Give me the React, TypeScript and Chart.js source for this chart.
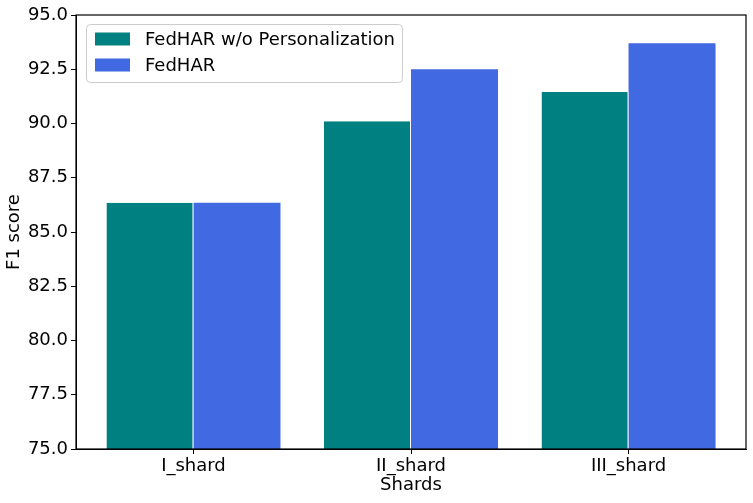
import React, { useEffect, useRef } from "react";
import { Chart, registerables } from "chart.js";

Chart.register(...registerables);

const categories = ["I_shard", "II_shard", "III_shard"];
const seriesNames = ["FedHAR w/o Personalization", "FedHAR"];
const withoutPersonalization = [86.35, 90.1, 91.45];
const fedhar = [86.35, 92.5, 93.7];
const seriesColors = ["#008080", "#4169E1"];
const yMin = 75;
const yMax = 95;
const yStep = 2.5;
const xTitle = "Shards";
const yTitle = "F1 score";

const FONT = "'DejaVu Sans', sans-serif";

const framePlugin = {
  id: "frame",
  afterDatasetsDraw(chart: any) {
    const { ctx, chartArea } = chart;
    ctx.save();
    ctx.strokeStyle = "#000";
    ctx.lineWidth = 1.2;
    ctx.strokeRect(chartArea.left, chartArea.top, chartArea.right - chartArea.left, chartArea.bottom - chartArea.top);
    ctx.restore();
  },
};

const legendPlugin = {
  id: "innerLegend",
  afterDraw(chart: any) {
    const { ctx, chartArea } = chart;
    ctx.save();
    ctx.font = `18px ${FONT}`;
    const x0 = chartArea.left + 10;
    const y0 = chartArea.top + 9;
    const patchW = 35;
    const patchH = 13;
    const textX = x0 + 59;
    const rowH = 26;
    let maxW = 0;
    seriesNames.forEach((n) => {
      maxW = Math.max(maxW, ctx.measureText(n).width);
    });
    const boxW = textX - x0 + maxW + 7;
    const boxH = 58;
    ctx.beginPath();
    ctx.roundRect(x0 + 0.5, y0 + 0.5, boxW, boxH, 4);
    ctx.fillStyle = "rgba(255,255,255,0.8)";
    ctx.fill();
    ctx.strokeStyle = "#cccccc";
    ctx.lineWidth = 1;
    ctx.stroke();
    seriesNames.forEach((n, i) => {
      const cy = y0 + 15 + i * rowH;
      ctx.fillStyle = seriesColors[i];
      ctx.fillRect(x0 + 9, cy - patchH / 2, patchW, patchH);
      ctx.fillStyle = "#000";
      ctx.textBaseline = "middle";
      ctx.textAlign = "left";
      ctx.fillText(n, textX, cy + 1);
    });
    ctx.restore();
  },
};

export default function App() {
  const ref = useRef<HTMLCanvasElement>(null);
  useEffect(() => {
    if (!ref.current) return;
    const chart = new Chart(ref.current, {
      type: "bar",
      data: {
        datasets: [
          {
            label: seriesNames[0],
            data: withoutPersonalization.map((v, i) => ({ x: i, y: v })),
            backgroundColor: seriesColors[0],
            borderColor: "#ffffff",
            borderWidth: { left: 0, right: 1, top: 0, bottom: 0 },
            borderSkipped: false,
          },
          {
            label: seriesNames[1],
            data: fedhar.map((v, i) => ({ x: i, y: v })),
            backgroundColor: seriesColors[1],
            borderWidth: 0,
          },
        ],
      },
      options: {
        animation: false,
        responsive: false,
        maintainAspectRatio: false,
        layout: { padding: { top: 15, right: 7, left: 0, bottom: 0 } },
        plugins: { legend: { display: false }, tooltip: { enabled: false } },
        datasets: { bar: { categoryPercentage: 0.8, barPercentage: 1.0 } },
        scales: {
          x: {
            type: "linear",
            min: -0.54,
            max: 2.54,
            offset: false,
            afterBuildTicks: (s: any) => {
              s.ticks = categories.map((_, i) => ({ value: i }));
            },
            afterFit: (s: any) => {
              s.height = 54;
            },
            grid: { offset: false, drawOnChartArea: false, drawTicks: true, tickLength: 5, color: "#000" },
            border: { display: true, color: "#000", width: 1 },
            ticks: {
              font: { family: FONT, size: 18 },
              color: "#000",
              padding: 2,
              maxRotation: 0,
              callback: (v: any) => categories[Math.round(Number(v))] ?? "",
            },
            title: {
              display: true,
              text: xTitle,
              font: { family: FONT, size: 18 },
              color: "#000",
              padding: { top: 0, bottom: 7 },
            },
          },
          y: {
            min: yMin,
            max: yMax,
            afterFit: (s: any) => {
              s.width = 76;
            },
            grid: { drawOnChartArea: false, drawTicks: true, tickLength: 5, color: "#000" },
            border: { display: true, color: "#000", width: 1 },
            ticks: {
              stepSize: yStep,
              font: { family: FONT, size: 18 },
              color: "#000",
              padding: 3,
              callback: (v: any) => Number(v).toFixed(1),
            },
            title: {
              display: true,
              text: yTitle,
              font: { family: FONT, size: 18 },
              color: "#000",
              padding: { top: 4, bottom: 0 },
            },
          },
        },
      },
      plugins: [framePlugin, legendPlugin],
    });
    return () => chart.destroy();
  }, []);
  return (
    <div style={{ position: "fixed", left: 0, top: 0, width: 753, height: 503, background: "#fff" }}>
      <canvas ref={ref} width={753} height={503} style={{ width: 753, height: 503 }} />
    </div>
  );
}
